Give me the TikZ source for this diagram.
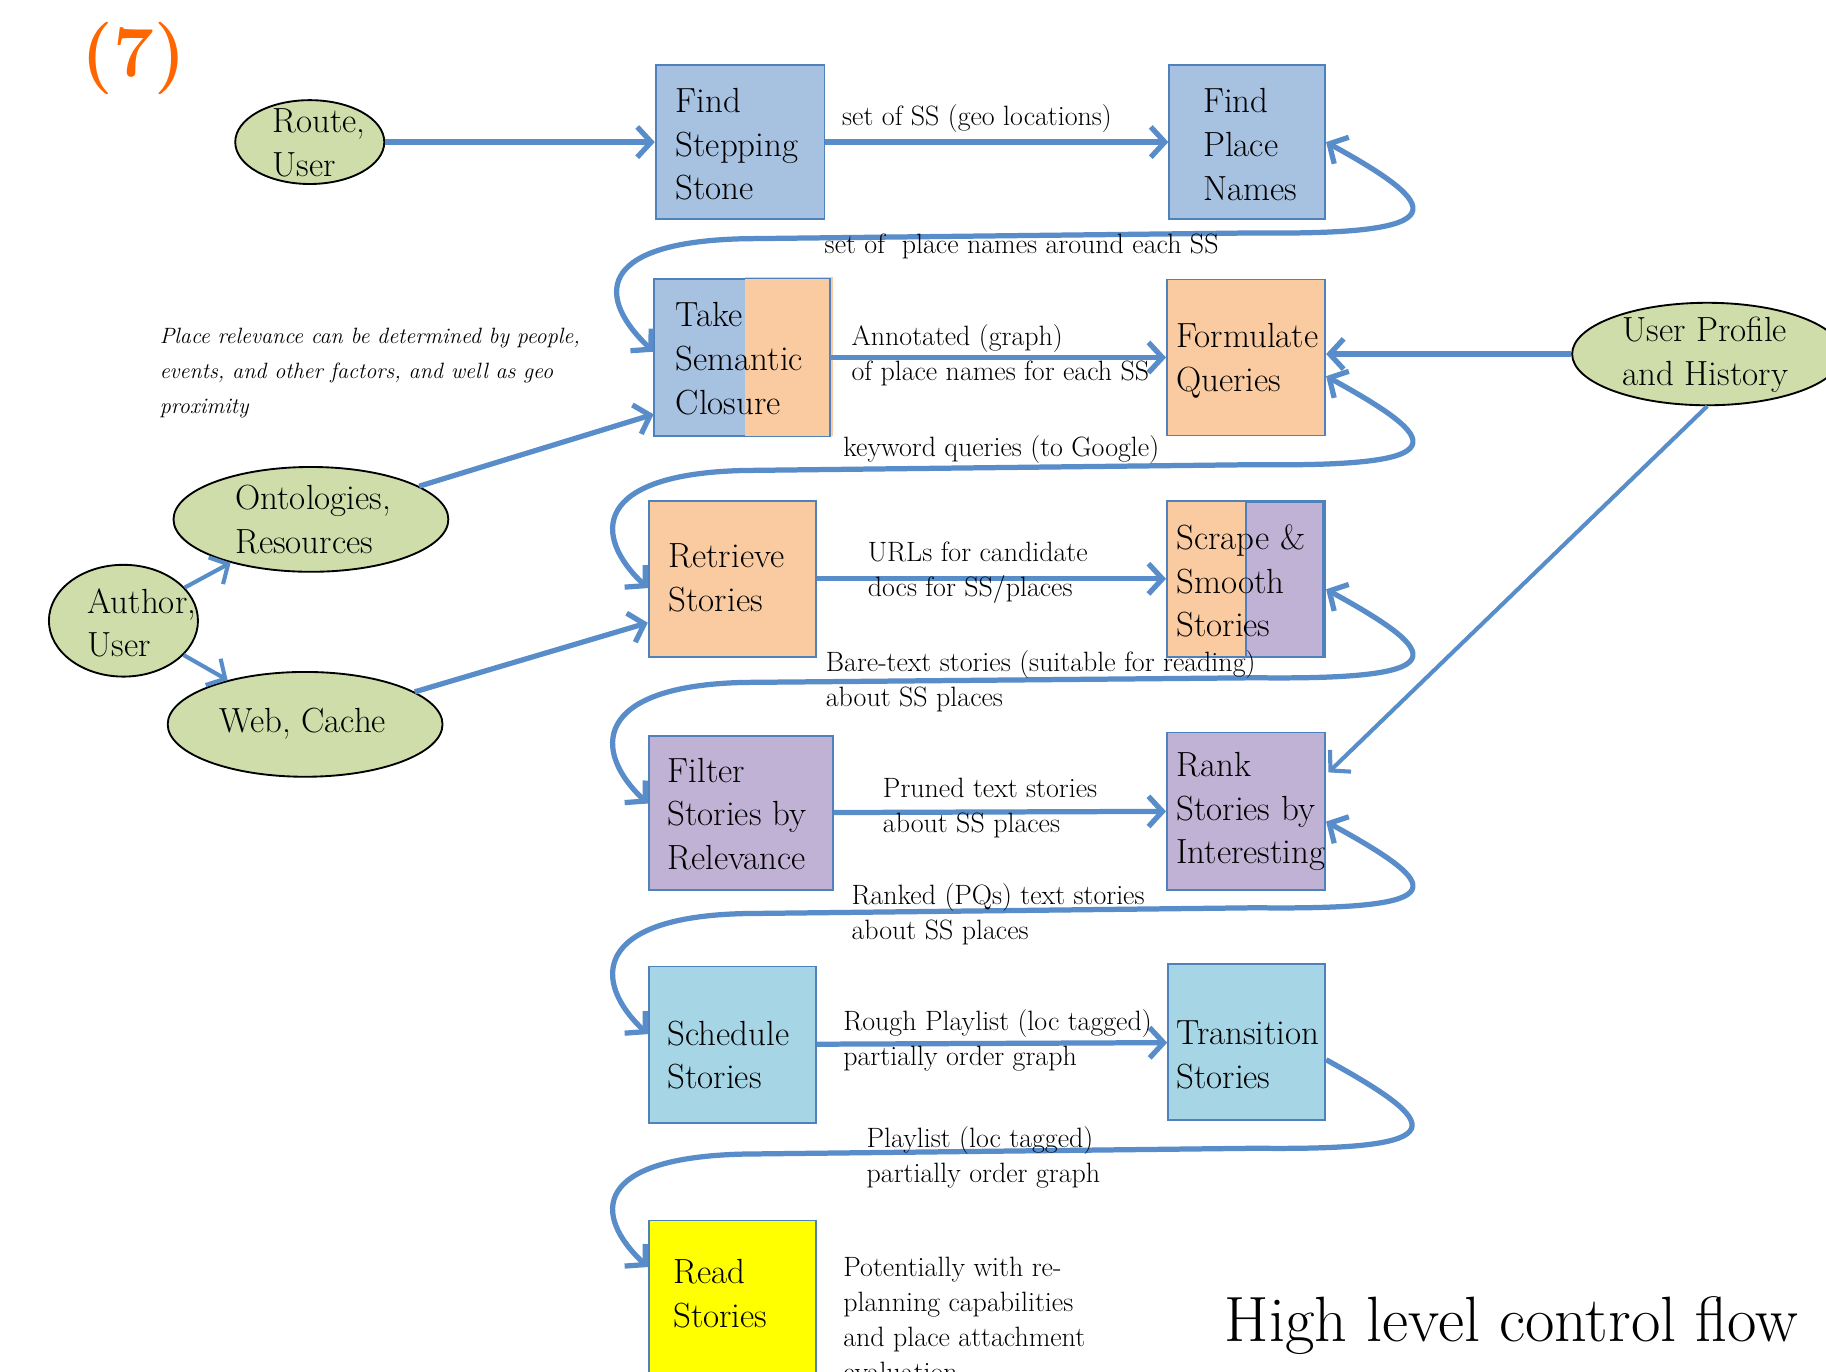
\documentclass[tikz,border=0pt]{standalone}
\usetikzlibrary{arrows.meta,shapes.geometric,calc}
\definecolor{lnblue}{RGB}{88,141,201}
\definecolor{bdblue}{RGB}{79,129,189}
\definecolor{fblue}{RGB}{167,193,224}
\definecolor{forange}{RGB}{250,202,160}
\definecolor{fpurple}{RGB}{192,178,212}
\definecolor{fcyan}{RGB}{166,214,230}
\definecolor{fgreen}{RGB}{206,221,170}
\definecolor{fyellow}{RGB}{255,255,0}
\definecolor{orng}{RGB}{255,102,0}
\tikzset{
  x=1pt, y=-1pt,
  procbox/.style={rectangle, draw=bdblue, line width=1.5pt, inner sep=0pt},
  ell/.style={ellipse, draw=black, line width=1.6pt, fill=fgreen, inner sep=0pt},
  boxtxt/.style={inner sep=0pt, anchor=west, align=left, font=\fontsize{30}{37.5}\selectfont},
  lbl/.style={inner sep=0pt, anchor=west, align=left, font=\fontsize{24}{30}\selectfont},
  tip/.tip={Straight Barb[length=12pt,width=26pt]},
  arr/.style={draw=lnblue, line width=4.5pt, -tip},
  loopd/.style={draw=lnblue, line width=4.5pt, tip-tip},
  loops/.style={draw=lnblue, line width=4.5pt, -tip},
}
\begin{document}
\begin{tikzpicture}
\useasboundingbox[fill=white] (0,0) rectangle (1568,1178);

% title
\node[text=orng, font=\fontsize{62}{68}\selectfont\bfseries, inner sep=0pt] (num) at (115,50) {(7)};

% ellipses
\node[ell, minimum width=128pt, minimum height=72pt] (route) at (266,122) {};
\node[boxtxt] (routet) at (234,122.5) {Route,\\User};
\node[ell, minimum width=236pt, minimum height=90pt] (onto) at (267,446) {};
\node[boxtxt] (ontot) at (202,446) {Ontologies,\\Resources};
\node[ell, minimum width=128pt, minimum height=96pt] (author) at (106,533) {};
\node[boxtxt] (authort) at (75,535) {Author,\\User};
\node[ell, minimum width=236pt, minimum height=90pt] (web) at (262,622) {};
\node[boxtxt, anchor=center] (webt) at (260,621) {Web, Cache};
\node[ell, minimum width=232pt, minimum height=88pt] (uph) at (1466,304) {};
\node[boxtxt] (upht) at (1393,304.5) {User Profile\\and History};

% boxes
\node[procbox, fill=fblue, minimum width=145pt, minimum height=132pt] (fss) at (635.5,122) {};
\node[procbox, fill=fblue, minimum width=134pt, minimum height=132pt] (fpn) at (1071,122) {};
\node[procbox, fill=fblue, minimum width=150pt, minimum height=134pt] (tsc) at (637,307) {};
\fill[forange] (640,238) rectangle (715,374);
\draw[bdblue, line width=1.5pt] (tsc.north west) rectangle (tsc.south east);
\node[procbox, fill=forange, minimum width=136pt, minimum height=134pt] (fq) at (1070,307) {};
\node[procbox, fill=forange, minimum width=144pt, minimum height=134pt] (rs) at (629,497) {};
\node[procbox, fill=forange, minimum width=136pt, minimum height=134pt] (sss) at (1070,497) {};
\filldraw[fill=fpurple, draw=bdblue, line width=1.2pt] (1070,431) rectangle (1136,564);
\node[procbox, fill=fpurple, minimum width=158pt, minimum height=132pt] (fsr) at (636,698) {};
\node[procbox, fill=fpurple, minimum width=136pt, minimum height=135pt] (rsi) at (1070,696.5) {};
\node[procbox, fill=fcyan, minimum width=144pt, minimum height=134pt] (schs) at (629,897) {};
\node[procbox, fill=fcyan, minimum width=135pt, minimum height=134pt] (trs) at (1070.5,895) {};
\node[procbox, fill=fyellow, minimum width=144pt, minimum height=134pt] (rds) at (629,1115) {};

% box texts
\node[boxtxt] (fsst) at (580,124) {Find\\Stepping\\Stone};
\node[boxtxt] (fpnt) at (1033,124) {Find\\Place\\Names};
\node[boxtxt] (tsct) at (580,308) {Take\\Semantic\\Closure};
\node[boxtxt] (fqt) at (1010,310) {Formulate\\Queries};
\node[boxtxt] (rst) at (574,496) {Retrieve\\Stories};
\node[boxtxt] (ssst) at (1010,499) {Scrape \&\\Smooth\\Stories};
\node[boxtxt] (fsrt) at (573,699) {Filter\\Stories by\\Relevance};
\node[boxtxt] (rsit) at (1010,697) {Rank\\Stories by\\Interesting};
\node[boxtxt] (schst) at (573,906) {Schedule\\Stories};
\node[boxtxt] (trst) at (1010,906) {Transition\\Stories};
\node[boxtxt] (rdst) at (578,1111) {Read\\Stories};

% straight connectors
\draw[arr] (route) -- (fss);
\draw[arr] (fss) -- (fpn);
\draw[arr] (tsc) -- (fq);
\draw[arr] (uph) -- (uph -| fq.east);
\draw[arr] (rs) -- (sss);
\draw[arr] (fsr) -- (rsi);
\draw[arr] (schs) -- (trs);
\draw[arr, line width=3.5pt] (uph.south) -- ($(rsi.north east)+(2,35)$);
\draw[arr] (onto) -- ($(tsc.south west)+(0,-19)$);
\draw[arr] (web) -- ($(rs.south west)+(0,-30)$);
\draw[arr, line width=3.5pt] (author) -- (onto);
\draw[arr, line width=3.5pt] (author) -- (web);

% loop connectors
\draw[loopd] (fpn.east) .. controls +(100,55) and +(175,2) .. ++(-60,78) -- ++(-440,5) .. controls +(-130,3) and +(-48,-45) .. ($(tsc.west)+(0,-5)$);
\draw[loopd] ($(fq.east)+(0,16)$) .. controls +(100,55) and +(175,2) .. ++(-60,76) -- ++(-440,5) .. controls +(-130,3) and +(-48,-45) .. ($(rs.west)+(0,8)$);
\draw[loopd] ($(sss.east)+(0,9)$) .. controls +(100,55) and +(175,2) .. ++(-60,76) -- ++(-440,4) .. controls +(-130,3) and +(-48,-45) .. ($(fsr.west)+(0,-8)$);
\draw[loopd] ($(rsi.east)+(0,9)$) .. controls +(100,55) and +(175,2) .. ++(-60,74) -- ++(-440,5) .. controls +(-130,3) and +(-48,-45) .. ($(schs.west)+(0,-9)$);
\draw[loops] ($(trs.east)+(0,15)$) .. controls +(100,55) and +(175,2) .. ++(-60,76) -- ++(-440,5) .. controls +(-130,3) and +(-48,-45) .. ($(rds.west)+(0,-27)$);

% connector labels
\node[lbl] (l1) at (723,102) {set of SS (geo locations)};
\node[lbl] (l2) at (708,212) {set of\ \ place names around each SS};
\node[lbl] (l3) at (731,305) {Annotated (graph)\\of place names for each SS};
\node[lbl] (l4) at (724,386) {keyword queries (to Google)};
\node[lbl] (l5) at (745,492) {URLs for candidate\\docs for SS/places};
\node[lbl] (l6) at (709,585) {Bare-text stories (suitable for reading)\\about SS places};
\node[lbl] (l7) at (758,693.5) {Pruned text stories\\about SS places};
\node[lbl] (l8) at (731,785) {Ranked (PQs) text stories\\about SS places};
\node[lbl] (l9) at (724,893) {Rough Playlist (loc tagged)\\partially order graph};
\node[lbl] (l10) at (744,993.5) {Playlist (loc tagged)\\partially order graph};
\node[lbl] (l11) at (724,1133) {Potentially with re-\\planning capabilities\\and place attachment\\evaluation};

% notes
\node[inner sep=0pt, anchor=west, align=left, font=\fontsize{19}{30}\selectfont\itshape] (note) at (137,320) {Place relevance can be determined by people,\\events, and other factors, and well as geo\\proximity};
\node[inner sep=0pt, font=\fontsize{55}{60}\selectfont] (title) at (1298,1138) {High level control flow};
\end{tikzpicture}
\end{document}
